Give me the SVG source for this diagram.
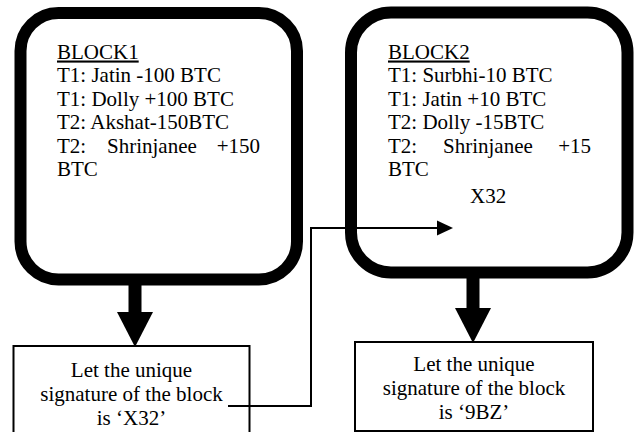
<svg xmlns="http://www.w3.org/2000/svg" width="634" height="432" viewBox="0 0 634 432">
<defs>
<marker id="bighead" markerUnits="userSpaceOnUse" markerWidth="36" markerHeight="36" viewBox="0 0 35 36" refX="0" refY="18" orient="auto">
<path d="M0,0 L35,18 L0,36 z" fill="#000"/>
</marker>
<marker id="smallhead" markerUnits="userSpaceOnUse" markerWidth="16" markerHeight="16" viewBox="0 0 16 16" refX="0" refY="8" orient="auto">
<path d="M0,0.5 L16,8 L0,15.5 z" fill="#000"/>
</marker>
</defs>
<g id="block1">
<rect x="20.5" y="13" width="276.5" height="266.5" rx="38" ry="38" fill="#fff" stroke="#000" stroke-width="12"/>
<text style="font-family:'Times New Roman';font-size:21px" x="57" y="58.5" text-decoration="underline">BLOCK1</text>
<text style="font-family:'Times New Roman';font-size:21px" x="57" y="82">T1: Jatin -100 BTC</text>
<text style="font-family:'Times New Roman';font-size:21px" x="57" y="105.5">T1: Dolly +100 BTC</text>
<text style="font-family:'Times New Roman';font-size:21px" x="57" y="129">T2: Akshat-150BTC</text>
<text style="font-family:'Times New Roman';font-size:21px" x="57" y="152.5">T2:</text>
<text style="font-family:'Times New Roman';font-size:21px" x="107" y="152.5">Shrinjanee</text>
<text style="font-family:'Times New Roman';font-size:21px" x="260" y="152.5" text-anchor="end">+150</text>
<text style="font-family:'Times New Roman';font-size:21px" x="57" y="176">BTC</text>
</g>
<g id="block2">
<rect x="351" y="12.5" width="276.5" height="260" rx="40" ry="40" fill="#fff" stroke="#000" stroke-width="12"/>
<text style="font-family:'Times New Roman';font-size:21px" x="388" y="58.5" text-decoration="underline">BLOCK2</text>
<text style="font-family:'Times New Roman';font-size:21px" x="388" y="82">T1: Surbhi-10 BTC</text>
<text style="font-family:'Times New Roman';font-size:21px" x="388" y="105.5">T1: Jatin +10 BTC</text>
<text style="font-family:'Times New Roman';font-size:21px" x="388" y="129">T2: Dolly -15BTC</text>
<text style="font-family:'Times New Roman';font-size:21px" x="388" y="152.5">T2:</text>
<text style="font-family:'Times New Roman';font-size:21px" x="443" y="152.5">Shrinjanee</text>
<text style="font-family:'Times New Roman';font-size:21px" x="591" y="152.5" text-anchor="end">+15</text>
<text style="font-family:'Times New Roman';font-size:21px" x="388" y="176">BTC</text>
<text style="font-family:'Times New Roman';font-size:21px" x="470" y="203">X32</text>
</g>
<g id="sig1">
<rect x="13.5" y="346" width="236" height="100" fill="#fff" stroke="#000" stroke-width="2"/>
<text style="font-family:'Times New Roman';font-size:21px" x="131.5" y="376.5" text-anchor="middle">Let the unique</text>
<text style="font-family:'Times New Roman';font-size:21px" x="131.5" y="400.5" text-anchor="middle">signature of the block</text>
<text style="font-family:'Times New Roman';font-size:21px" x="131.5" y="424.5" text-anchor="middle">is &#8216;X32&#8217;</text>
</g>
<g id="sig2">
<rect x="355" y="342" width="238" height="89" fill="#fff" stroke="#000" stroke-width="2"/>
<text style="font-family:'Times New Roman';font-size:21px" x="474" y="371" text-anchor="middle">Let the unique</text>
<text style="font-family:'Times New Roman';font-size:21px" x="474" y="395" text-anchor="middle">signature of the block</text>
<text style="font-family:'Times New Roman';font-size:21px" x="474" y="419" text-anchor="middle">is &#8216;9BZ&#8217;</text>
</g>
<g id="connectors">
<line x1="135" y1="285" x2="135" y2="312" stroke="#000" stroke-width="13" marker-end="url(#bighead)"/>
<line x1="473" y1="278" x2="473" y2="308" stroke="#000" stroke-width="13" marker-end="url(#bighead)"/>
<polyline points="228,406 311,406 311,228 437,228" fill="none" stroke="#000" stroke-width="2" marker-end="url(#smallhead)"/>
</g>
</svg>
